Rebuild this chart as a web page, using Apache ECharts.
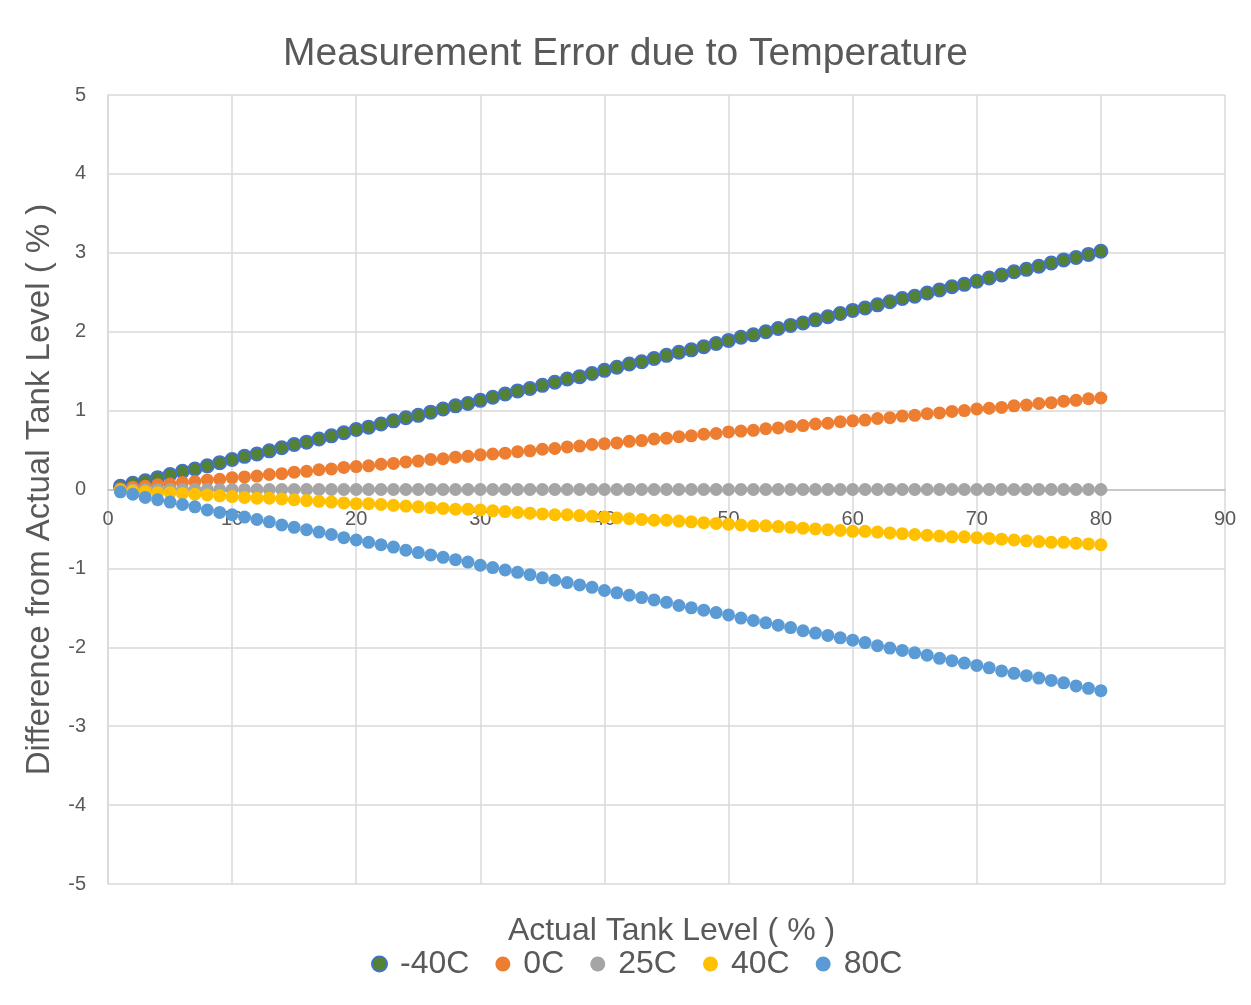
<!DOCTYPE html>
<html><head><meta charset="utf-8">
<script src="https://cdn.jsdelivr.net/npm/echarts@6/dist/echarts.min.js"></script>
<style>html,body{margin:0;padding:0;background:#fff}#c{width:1251px;height:1005px}</style>
</head><body><div id="c"></div>
<script>
const xLevels = [1,2,3,4,5,6,7,8,9,10,11,12,13,14,15,16,17,18,19,20,21,22,23,24,25,26,27,28,29,30,31,32,33,34,35,36,37,38,39,40,41,42,43,44,45,46,47,48,49,50,51,52,53,54,55,56,57,58,59,60,61,62,63,64,65,66,67,68,69,70,71,72,73,74,75,76,77,78,79,80];
const seriesNames = ['-40C','0C','25C','40C','80C'];
const errM40 = [0.04,0.08,0.11,0.15,0.19,0.23,0.26,0.30,0.34,0.38,0.42,0.45,0.49,0.53,0.57,0.60,0.64,0.68,0.72,0.76,0.79,0.83,0.87,0.91,0.94,0.98,1.02,1.06,1.09,1.13,1.17,1.21,1.25,1.28,1.32,1.36,1.40,1.43,1.47,1.51,1.55,1.59,1.62,1.66,1.70,1.74,1.77,1.81,1.85,1.89,1.93,1.96,2.00,2.04,2.08,2.11,2.15,2.19,2.23,2.27,2.30,2.34,2.38,2.42,2.45,2.49,2.53,2.57,2.60,2.64,2.68,2.72,2.76,2.79,2.83,2.87,2.91,2.94,2.98,3.02];
const err0 = [0.01,0.03,0.04,0.06,0.07,0.09,0.10,0.12,0.13,0.15,0.16,0.17,0.19,0.20,0.22,0.23,0.25,0.26,0.28,0.29,0.30,0.32,0.33,0.35,0.36,0.38,0.39,0.41,0.42,0.44,0.45,0.46,0.48,0.49,0.51,0.52,0.54,0.55,0.57,0.58,0.59,0.61,0.62,0.64,0.65,0.67,0.68,0.70,0.71,0.73,0.74,0.75,0.77,0.78,0.80,0.81,0.83,0.84,0.86,0.87,0.88,0.90,0.91,0.93,0.94,0.96,0.97,0.99,1.00,1.02,1.03,1.04,1.06,1.07,1.09,1.10,1.12,1.13,1.15,1.16];
const err25 = [0,0,0,0,0,0,0,0,0,0,0,0,0,0,0,0,0,0,0,0,0,0,0,0,0,0,0,0,0,0,0,0,0,0,0,0,0,0,0,0,0,0,0,0,0,0,0,0,0,0,0,0,0,0,0,0,0,0,0,0,0,0,0,0,0,0,0,0,0,0,0,0,0,0,0,0,0,0,0,0];
const err40 = [-0.01,-0.02,-0.03,-0.04,-0.04,-0.05,-0.06,-0.07,-0.08,-0.09,-0.10,-0.11,-0.11,-0.12,-0.13,-0.14,-0.15,-0.16,-0.17,-0.18,-0.18,-0.19,-0.20,-0.21,-0.22,-0.23,-0.24,-0.25,-0.25,-0.26,-0.27,-0.28,-0.29,-0.30,-0.31,-0.32,-0.32,-0.33,-0.34,-0.35,-0.36,-0.37,-0.38,-0.39,-0.39,-0.40,-0.41,-0.42,-0.43,-0.44,-0.45,-0.46,-0.46,-0.47,-0.48,-0.49,-0.50,-0.51,-0.52,-0.53,-0.53,-0.54,-0.55,-0.56,-0.57,-0.58,-0.59,-0.60,-0.60,-0.61,-0.62,-0.63,-0.64,-0.65,-0.66,-0.67,-0.67,-0.68,-0.69,-0.70];
const err80 = [-0.03,-0.06,-0.10,-0.13,-0.16,-0.19,-0.22,-0.26,-0.29,-0.32,-0.35,-0.38,-0.41,-0.45,-0.48,-0.51,-0.54,-0.57,-0.61,-0.64,-0.67,-0.70,-0.73,-0.77,-0.80,-0.83,-0.86,-0.89,-0.92,-0.96,-0.99,-1.02,-1.05,-1.08,-1.12,-1.15,-1.18,-1.21,-1.24,-1.28,-1.31,-1.34,-1.37,-1.40,-1.43,-1.47,-1.50,-1.53,-1.56,-1.59,-1.63,-1.66,-1.69,-1.72,-1.75,-1.79,-1.82,-1.85,-1.88,-1.91,-1.94,-1.98,-2.01,-2.04,-2.07,-2.10,-2.14,-2.17,-2.20,-2.23,-2.26,-2.30,-2.33,-2.36,-2.39,-2.42,-2.45,-2.49,-2.52,-2.55];

const allErr = [errM40, err0, err25, err40, err80];
const fills = ['#548235','#ED7D31','#A5A5A5','#FFC000','#5B9BD5'];
const FONT = 'Liberation Sans';
const TXT = '#595959';
const GRID = '#d9d9d9';

const GRID_TOP = 95, GRID_BOTTOM = 121, GRID_LEFT = 108, GRID_RIGHT = 26;
const Y_MIN = -5, Y_MAX = 5;
const plotH = 1005 - GRID_TOP - GRID_BOTTOM;
// move the x axis (line + labels) up to where y = 0 sits
const zeroOffset = -plotH * (0 - Y_MIN) / (Y_MAX - Y_MIN);
const plotCenterX = GRID_LEFT + (1251 - GRID_LEFT - GRID_RIGHT) / 2;

const chart = echarts.init(document.getElementById('c'), null, {renderer:'canvas'});
chart.setOption({
  backgroundColor:'#fff',
  animation:false,
  title:[
    {text:'Measurement Error due to Temperature', left:'center', top:30,
     textStyle:{fontFamily:FONT, fontSize:39, fontWeight:'normal', color:TXT}},
    {text:'Actual Tank Level ( % )', left:plotCenterX, textAlign:'center', top:910,
     textStyle:{fontFamily:FONT, fontSize:32, fontWeight:'normal', color:TXT}}
  ],
  legend:{top:943, left:366, itemWidth:15, itemHeight:15, itemGap:26, icon:'circle',
    textStyle:{fontFamily:FONT, fontSize:32, color:TXT, padding:[0,0,0,8]},
    data:seriesNames},
  grid:{left:GRID_LEFT, right:GRID_RIGHT, top:GRID_TOP, bottom:GRID_BOTTOM, containLabel:false, outerBoundsMode:'none'},
  xAxis:{type:'value', min:0, max:90, interval:10, position:'bottom', offset:zeroOffset,
    axisLine:{show:true, onZero:false, lineStyle:{color:'#bfbfbf', width:1.5}},
    axisTick:{show:false},
    axisLabel:{fontFamily:FONT, fontSize:20, color:TXT, margin:20},
    splitLine:{show:true, lineStyle:{color:GRID, width:1.5}}},
  yAxis:{type:'value', min:Y_MIN, max:Y_MAX, interval:1,
    name:'Difference from Actual Tank Level ( % )', nameLocation:'middle', nameGap:52,
    nameTextStyle:{fontFamily:FONT, fontSize:33, color:TXT},
    axisLine:{show:true, onZero:false, lineStyle:{color:GRID, width:1.5}},
    axisTick:{show:false},
    axisLabel:{fontFamily:FONT, fontSize:20, color:TXT, margin:22},
    splitLine:{show:true, lineStyle:{color:GRID, width:1.5}}},
  series: seriesNames.map((n,i)=>({
    name:n, type:'scatter', symbol:'circle', symbolSize: 13,
    itemStyle: i===0 ? {color:fills[0], borderColor:'#4472C4', borderWidth:2, opacity:1} : {color:fills[i], opacity:1},
    data: xLevels.map((x,k)=>[x, allErr[i][k]])
  }))
});
</script></body></html>
